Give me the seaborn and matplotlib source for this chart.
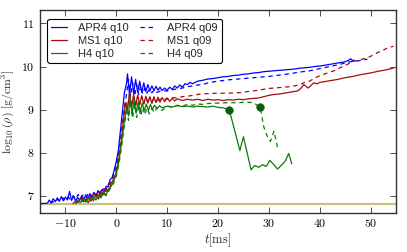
import matplotlib
matplotlib.use("Agg")
import matplotlib.pyplot as plt
import seaborn as sns
import pandas as pd
from matplotlib.ticker import FuncFormatter, FixedLocator

# ---------------- data ----------------
t_apr4_q10 = [-15, -14, -13.5, -13.2, -12.8, -12.4, -12.0, -11.6, -11.2, -10.8,
              -10.4, -10.0, -9.6, -9.2, -8.8, -8.4, -8.0, -7.6, -7.2, -6.8,
              -6.4, -6.0, -5.6, -5.2, -4.8, -4.4, -4.0, -3.6, -3.2, -2.8,
              -2.4, -2.0, -1.6, -1.2, -0.8, -0.4, 0.0, 0.4, 0.8, 1.2,
              1.6, 2.0, 2.2, 2.6, 3.0, 3.4, 3.8, 4.2, 4.6, 5.0,
              5.4, 5.8, 6.2, 6.6, 7.0, 7.4, 7.8, 8.2, 8.6, 9.0,
              9.5, 10, 10.5, 11, 11.5, 12, 12.5, 13, 13.5, 14,
              14.5, 15, 16, 17, 18, 19, 20, 21, 22, 23,
              24, 25, 26, 27, 28, 29, 30, 31, 32, 33,
              34, 35, 36, 37, 38, 39, 40, 41, 42, 43,
              44, 45, 45.6, 46.1, 46.5, 46.8]
y_apr4_q10 = [6.82, 6.82, 6.83, 6.90, 6.84, 6.93, 6.86, 6.95, 6.87, 6.98,
              6.88, 6.97, 6.90, 7.10, 6.89, 6.99, 6.88, 6.96, 6.90, 7.00,
              6.91, 7.02, 6.94, 7.05, 6.96, 7.08, 6.98, 7.12, 7.03, 7.15,
              7.08, 7.22, 7.20, 7.38, 7.42, 7.60, 7.80, 8.05, 8.50, 8.95,
              9.40, 9.60, 9.83, 9.35, 9.76, 9.38, 9.70, 9.40, 9.66, 9.40,
              9.62, 9.42, 9.58, 9.43, 9.55, 9.44, 9.54, 9.45, 9.52, 9.44,
              9.50, 9.45, 9.52, 9.47, 9.55, 9.50, 9.57, 9.52, 9.60, 9.58,
              9.63, 9.60, 9.66, 9.68, 9.71, 9.72, 9.74, 9.76, 9.77, 9.79,
              9.80, 9.82, 9.83, 9.85, 9.86, 9.88, 9.89, 9.90, 9.91, 9.92,
              9.93, 9.94, 9.96, 9.97, 9.98, 10.00, 10.01, 10.03, 10.05, 10.07,
              10.09, 10.11, 10.14, 10.18, 10.13, 10.15]

t_apr4_q09 = [-13, -12.5, -12, -11.5, -11, -10.5, -10, -9.5, -9, -8.5,
              -8, -7.5, -7, -6.5, -6, -5.5, -5, -4.5, -4, -3.5,
              -3, -2.5, -2, -1.5, -1, -0.5, 0, 0.5, 1, 1.5,
              2, 2.4, 2.8, 3.2, 3.6, 4.0, 4.4, 4.8, 5.2, 5.6,
              6.0, 6.5, 7.0, 7.5, 8.0, 9, 10, 11, 12, 13,
              14, 15, 16, 17, 18, 20, 22, 24, 26, 28,
              30, 32, 34, 36, 38, 40, 42, 44, 45.5, 46.5,
              47.5, 48.5, 49.4]
y_apr4_q09 = [6.82, 6.86, 6.84, 6.92, 6.87, 6.95, 6.89, 6.97, 6.91, 7.00,
              6.92, 7.03, 6.93, 7.02, 6.95, 7.06, 6.97, 7.08, 7.00, 7.10,
              7.05, 7.16, 7.15, 7.28, 7.35, 7.52, 7.70, 8.00, 8.45, 8.95,
              9.35, 9.70, 9.30, 9.62, 9.32, 9.58, 9.35, 9.55, 9.36, 9.50,
              9.38, 9.47, 9.39, 9.46, 9.40, 9.44, 9.43, 9.46, 9.48, 9.50,
              9.53, 9.55, 9.57, 9.58, 9.62, 9.66, 9.69, 9.71, 9.73, 9.75,
              9.77, 9.80, 9.83, 9.87, 9.90, 9.95, 10.00, 10.05, 10.10, 10.12,
              10.13, 10.15, 10.17]

t_ms1_q10 = [-8.5, -8, -7.5, -7, -6.5, -6, -5.5, -5, -4.5, -4,
             -3.5, -3, -2.5, -2, -1.5, -1, -0.5, 0, 0.5, 1,
             1.4, 1.8, 2.2, 2.6, 3.0, 3.4, 3.8, 4.2, 4.6, 5.0,
             5.4, 5.8, 6.2, 6.6, 7.0, 7.4, 7.8, 8.2, 8.6, 9.0,
             9.5, 10, 10.5, 11, 11.5, 12, 13, 14, 15, 16,
             17, 18, 19, 20, 21, 22, 23, 24, 25, 26,
             27, 28, 29, 30, 31, 32, 33, 34, 35, 35.6,
             36.2, 36.9, 37.7, 38.2, 38.8, 39.5, 40, 41, 42, 43.5,
             45, 46.5, 48, 50, 51.5, 53, 54.6]
y_ms1_q10 = [6.82, 6.88, 6.85, 6.95, 6.86, 6.92, 6.84, 6.98, 6.88, 7.05,
             6.92, 7.12, 7.02, 7.18, 7.10, 7.30, 7.38, 7.55, 7.85, 8.30,
             8.75, 9.15, 9.00, 9.40, 9.05, 9.35, 9.10, 9.33, 9.12, 9.32,
             9.13, 9.31, 9.15, 9.30, 9.14, 9.30, 9.16, 9.29, 9.17, 9.28,
             9.18, 9.27, 9.19, 9.26, 9.20, 9.25, 9.21, 9.24, 9.22, 9.24,
             9.21, 9.24, 9.22, 9.23, 9.21, 9.23, 9.22, 9.24, 9.23, 9.25,
             9.26, 9.27, 9.30, 9.33, 9.35, 9.36, 9.38, 9.40, 9.42, 9.43,
             9.48, 9.58, 9.50, 9.55, 9.62, 9.60, 9.63, 9.65, 9.67, 9.70,
             9.74, 9.77, 9.81, 9.85, 9.89, 9.92, 9.97]

t_ms1_q09 = [-8, -7.5, -7, -6.5, -6, -5.5, -5, -4.5, -4, -3.5,
             -3, -2.5, -2, -1.5, -1, -0.5, 0, 0.5, 1, 1.4,
             1.8, 2.2, 2.6, 3.0, 3.4, 3.8, 4.2, 4.6, 5.0, 5.4,
             5.8, 6.2, 6.6, 7.0, 7.5, 8, 9, 10, 11, 12,
             13, 14, 15, 16, 17, 18, 20, 22, 24, 26,
             28, 30, 32, 34, 36, 37, 38, 39.5, 41.5, 43,
             44.5, 46.7, 48, 49.4, 51, 52.5, 53.3, 54.5]
y_ms1_q09 = [6.82, 6.90, 6.86, 6.97, 6.88, 7.00, 6.90, 7.05, 6.95, 7.08,
             7.00, 7.12, 7.10, 7.25, 7.30, 7.45, 7.62, 7.95, 8.40, 8.85,
             9.20, 9.05, 9.35, 9.08, 9.32, 9.10, 9.30, 9.12, 9.30, 9.14,
             9.29, 9.16, 9.28, 9.18, 9.27, 9.20, 9.26, 9.24, 9.28, 9.27,
             9.30, 9.31, 9.33, 9.35, 9.37, 9.37, 9.38, 9.38, 9.39, 9.42,
             9.45, 9.49, 9.51, 9.53, 9.57, 9.63, 9.66, 9.76, 9.85, 9.91,
             10.00, 10.12, 10.16, 10.20, 10.30, 10.38, 10.43, 10.47]

t_h4_q10 = [-8, -7.5, -7, -6.5, -6, -5.5, -5, -4.5, -4, -3.5,
            -3, -2.5, -2, -1.5, -1, -0.5, 0, 0.5, 1, 1.5,
            2.0, 2.4, 2.7, 3.1, 3.5, 3.9, 4.3, 4.7, 5.1, 5.5,
            5.9, 6.3, 6.7, 7.1, 7.5, 8, 8.5, 9, 10, 11,
            12, 13, 14, 15, 16, 17, 18, 19, 20, 21,
            22.2, 23.2, 24.3, 25.0, 26.5, 27.2, 28, 28.8, 29.5, 30.2,
            31, 31.7, 32.4, 33.2, 33.9, 34.5]
y_h4_q10 = [6.82, 6.88, 6.84, 6.93, 6.85, 6.95, 6.87, 6.98, 6.90, 7.02,
            6.95, 7.08, 7.02, 7.15, 7.22, 7.35, 7.50, 7.80, 8.20, 8.65,
            9.05, 8.85, 9.30, 8.90, 9.22, 8.92, 9.18, 8.95, 9.15, 8.97,
            9.13, 8.98, 9.12, 9.00, 9.10, 9.02, 9.09, 9.04, 9.08, 9.06,
            9.09, 9.07, 9.08, 9.06, 9.08, 9.07, 9.06, 9.08, 9.05, 9.04,
            9.00, 8.55, 8.05, 8.37, 7.60, 7.70, 7.66, 7.72, 7.68, 7.82,
            7.72, 7.62, 7.70, 7.80, 7.98, 7.74]

t_h4_q09 = [-8, -7.5, -7, -6.5, -6, -5.5, -5, -4.5, -4, -3.5,
            -3, -2.5, -2, -1.5, -1, -0.5, 0, 0.5, 1, 1.5,
            2.0, 2.4, 2.8, 3.2, 3.6, 4.0, 4.4, 4.8, 5.2, 5.6,
            6.0, 6.5, 7.0, 7.5, 8, 9, 10, 11, 12, 13,
            14, 15, 16, 17, 18, 20, 22, 24, 25.5, 27,
            28.3, 29.0, 29.6, 30.3, 31.0, 31.7]
y_h4_q09 = [6.82, 6.86, 6.83, 6.90, 6.86, 6.94, 6.88, 6.97, 6.91, 7.00,
            6.97, 7.05, 7.00, 7.12, 7.18, 7.30, 7.45, 7.72, 8.10, 8.55,
            8.95, 8.75, 9.20, 8.80, 9.12, 8.82, 9.08, 8.85, 9.05, 8.88,
            9.03, 8.90, 9.02, 8.93, 9.05, 8.98, 9.08, 9.05, 9.10, 9.08,
            9.12, 9.10, 9.13, 9.12, 9.14, 9.15, 9.16, 9.16, 9.17, 9.16,
            9.05, 8.60, 8.40, 8.26, 8.50, 8.12]

# collapse markers (time, log density)
t_collapse = [22.2, 28.3]
y_collapse = [9.00, 9.05]

# atmosphere floor
t_floor = [-15, 55]
y_floor = [6.8, 6.8]

labels = ["APR4 q10", "APR4 q09", "MS1 q10", "MS1 q09", "H4 q10", "H4 q09"]
xticks = [-10, 0, 10, 20, 30, 40, 50]
yticks = [7, 8, 9, 10, 11]

# ---------------- style ----------------
sns.set_style("ticks")
plt.rcParams["font.family"] = ["Liberation Sans", "DejaVu Sans"]
plt.rcParams["mathtext.fontset"] = "cm"

fig = plt.figure(figsize=(4.07, 2.52), dpi=100)
ax = fig.add_axes([0.0983, 0.155, 0.8747, 0.805])

blue = "#0000ff"
red = "#a80c0c"
green = "#0a7a0a"

series = [
    (t_apr4_q10, y_apr4_q10, blue, "-", labels[0]),
    (t_apr4_q09, y_apr4_q09, blue, (0, (3.5, 3)), labels[1]),
    (t_ms1_q10, y_ms1_q10, red, "-", labels[2]),
    (t_ms1_q09, y_ms1_q09, red, (0, (3.5, 3)), labels[3]),
    (t_h4_q10, y_h4_q10, green, "-", labels[4]),
    (t_h4_q09, y_h4_q09, green, (0, (3.5, 3)), labels[5]),
]

sns.lineplot(x=t_floor, y=y_floor, ax=ax, color="#c8c27c", lw=1.6,
             estimator=None, sort=False, legend=False)

handles = {}
for t, y, c, ls, lab in series:
    df = pd.DataFrame({"t": t, "y": y})
    sns.lineplot(data=df, x="t", y="y", ax=ax, color=c, lw=0.9,
                 estimator=None, sort=False, legend=False)
    ax.lines[-1].set_linestyle(ls)
    ax.lines[-1].set_label(lab)
    handles[lab] = ax.lines[-1]

sns.scatterplot(x=t_collapse, y=y_collapse, ax=ax, color="#0b5e0b",
                s=30, edgecolor="#0b5e0b", zorder=5, legend=False)

order = ["APR4 q10", "MS1 q10", "H4 q10", "APR4 q09", "MS1 q09", "H4 q09"]
leg = ax.legend([handles[k] for k in order], order, loc="upper left", ncol=2,
                fontsize=8, frameon=True, fancybox=True, framealpha=1,
                edgecolor="black", handlelength=1.4, columnspacing=1.0,
                borderpad=0.35, labelspacing=0.28, handletextpad=1.05,
                bbox_to_anchor=(0.005, 0.985))
leg.get_frame().set_linewidth(0.8)

ax.set_xlim(-15, 55)
ax.set_ylim(6.6, 11.31)
ax.xaxis.set_major_locator(FixedLocator(xticks))
ax.yaxis.set_major_locator(FixedLocator(yticks))
fmt = FuncFormatter(lambda v, p: r"$%d$" % v)
ax.xaxis.set_major_formatter(fmt)
ax.yaxis.set_major_formatter(fmt)
ax.tick_params(direction="in", length=4, width=0.6, labelsize=8.5,
               top=True, right=True, pad=4, colors="#333333", labelcolor="black")
for s in ax.spines.values():
    s.set_linewidth(1.0)
    s.set_color("#333333")

ax.set_xlabel(r"$t[\mathrm{ms}]$", fontsize=9, labelpad=1)
ax.set_ylabel(r"$\log_{10}(\rho)\ [\mathrm{g/cm^3}]$", fontsize=8.5, labelpad=3)

fig.savefig("out.png", dpi=100)
